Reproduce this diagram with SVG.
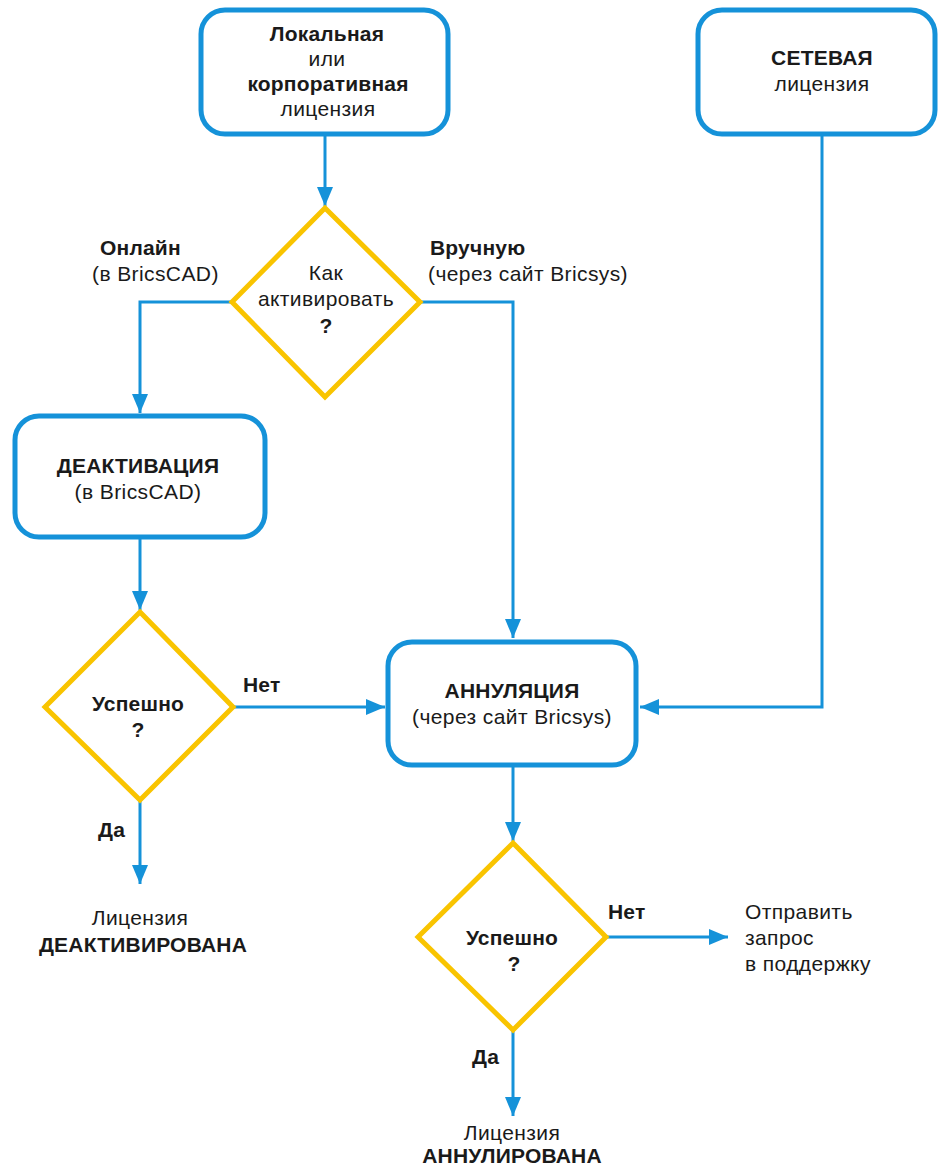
<svg xmlns="http://www.w3.org/2000/svg" width="940" height="1166" viewBox="0 0 940 1166">
<style>
.box{fill:#fff;stroke:#1592d9;stroke-width:5}
.dia{fill:#fff;stroke:#f9c400;stroke-width:5;stroke-linejoin:miter}
.ln{fill:none;stroke:#1592d9;stroke-width:3}
text{font-family:"Liberation Sans",Arial,sans-serif;font-size:21px;fill:#1a1a1a;text-anchor:middle;letter-spacing:0.4px}
.b{font-weight:bold;letter-spacing:0.2px}
.l{text-anchor:start}
</style>
<defs>
<marker id="ah" markerUnits="userSpaceOnUse" markerWidth="20" markerHeight="20" viewBox="0 0 20 20" refX="19" refY="10" orient="auto">
<path d="M0,2 L19,10 L0,18 Z" fill="#1592d9"/>
</marker>
</defs>
<g id="connectors">
<path class="ln" d="M325,136 V206" marker-end="url(#ah)"/>
<path class="ln" d="M232,302 H140 V413" marker-end="url(#ah)"/>
<path class="ln" d="M420,302 H513 V638" marker-end="url(#ah)"/>
<path class="ln" d="M140,539 V610" marker-end="url(#ah)"/>
<path class="ln" d="M233,707 H385" marker-end="url(#ah)"/>
<path class="ln" d="M140,800 V884" marker-end="url(#ah)"/>
<path class="ln" d="M822,136 V707 H640" marker-end="url(#ah)"/>
<path class="ln" d="M513,767 V841" marker-end="url(#ah)"/>
<path class="ln" d="M606,937 H728" marker-end="url(#ah)"/>
<path class="ln" d="M513,1030 V1116" marker-end="url(#ah)"/>
<text class="b l" x="100" y="255">Онлайн</text>
<text class="l" x="92" y="281">(в BricsCAD)</text>
<text class="b l" x="430" y="255">Вручную</text>
<text class="l" x="428" y="281">(через сайт Bricsys)</text>
<text class="b l" x="243" y="692">Нет</text>
<text class="b l" x="98" y="837">Да</text>
<text class="b l" x="608" y="919">Нет</text>
<text class="b l" x="472" y="1064">Да</text>
</g>
<g id="local">
<rect class="box" x="201" y="10" width="247" height="124" rx="24"/>
<text class="b" x="327" y="41">Локальная</text>
<text x="327" y="66">или</text>
<text class="b" x="328" y="91">корпоративная</text>
<text x="328" y="116">лицензия</text>
</g>
<g id="network">
<rect class="box" x="698" y="10" width="237" height="124" rx="24"/>
<text class="b" x="822" y="65">СЕТЕВАЯ</text>
<text x="822" y="91">лицензия</text>
</g>
<g id="how">
<polygon class="dia" points="325,208 420,302 325,397 232,302"/>
<text x="326" y="280">Как</text>
<text x="326" y="306">активировать</text>
<text class="b" x="326" y="333">?</text>
</g>
<g id="deact">
<rect class="box" x="15" y="416" width="250" height="121" rx="24"/>
<text class="b" x="138" y="473">ДЕАКТИВАЦИЯ</text>
<text x="138" y="499">(в BricsCAD)</text>
</g>
<g id="ok1">
<polygon class="dia" points="140,612 233,707 140,800 45,707"/>
<text class="b" x="138" y="711">Успешно</text>
<text class="b" x="138" y="737">?</text>
</g>
<g id="deactivated">
<text x="140" y="925">Лицензия</text>
<text class="b" x="143" y="952">ДЕАКТИВИРОВАНА</text>
</g>
<g id="annul">
<rect class="box" x="388" y="642" width="248" height="123" rx="24"/>
<text class="b" x="512" y="698">АННУЛЯЦИЯ</text>
<text x="512" y="724">(через сайт Bricsys)</text>
</g>
<g id="ok2">
<polygon class="dia" points="513,843 606,937 513,1030 418,937"/>
<text class="b" x="512" y="945">Успешно</text>
<text class="b" x="514" y="971">?</text>
</g>
<g id="support">
<text class="l" x="745" y="919">Отправить</text>
<text class="l" x="745" y="945">запрос</text>
<text class="l" x="745" y="971">в поддержку</text>
</g>
<g id="annulled">
<text x="512" y="1140">Лицензия</text>
<text class="b" x="512" y="1163">АННУЛИРОВАНА</text>
</g>
</svg>
